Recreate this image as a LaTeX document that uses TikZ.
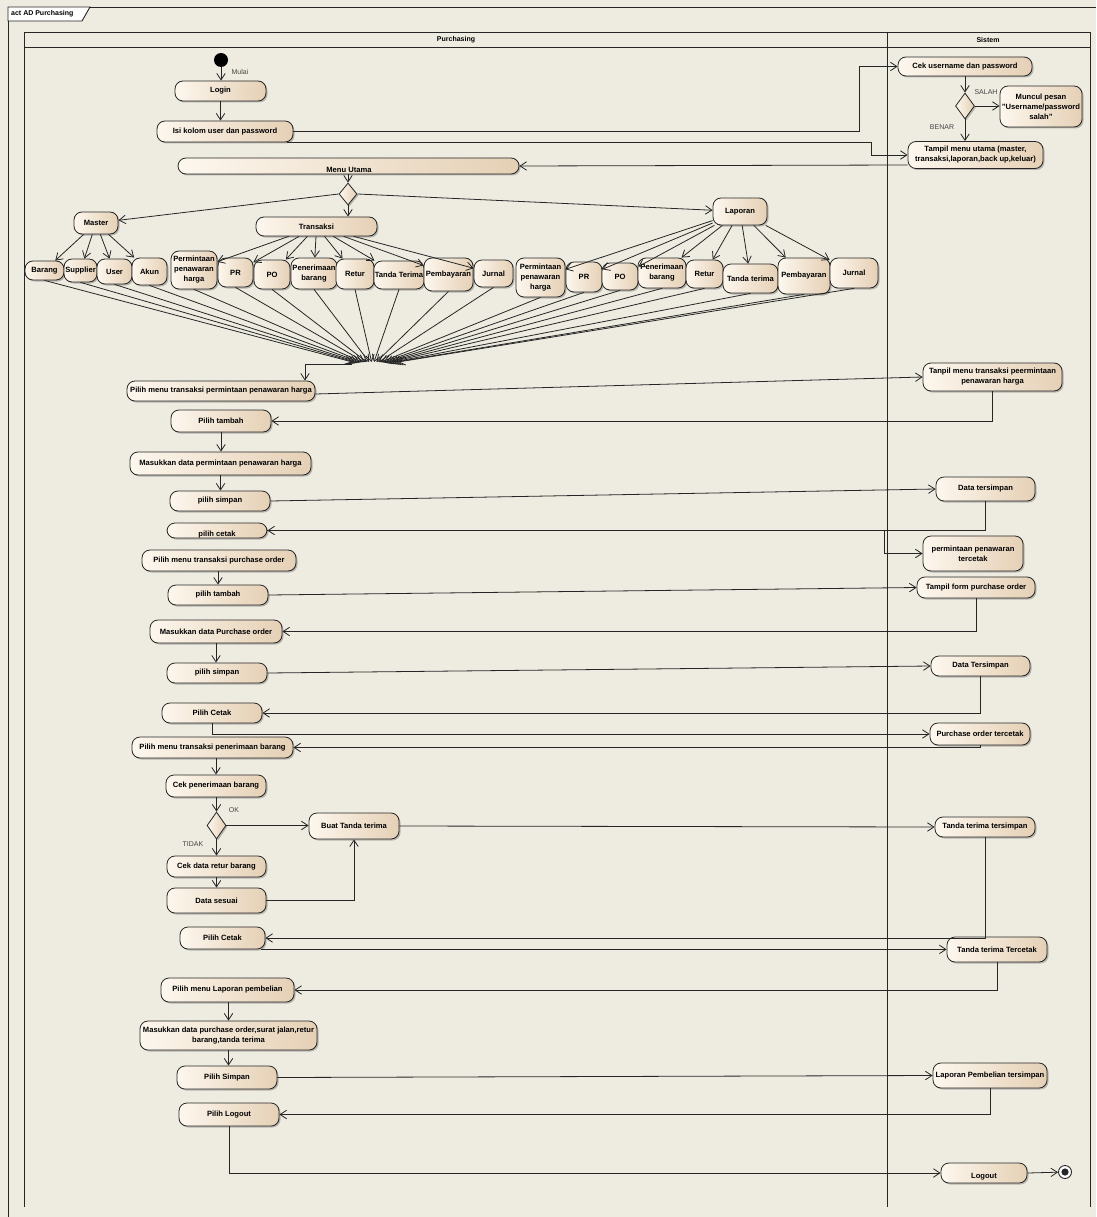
\documentclass[tikz,border=0pt]{standalone}
\usepackage{fontspec}
\setmainfont{Liberation Sans}
\usetikzlibrary{arrows.meta,shapes.geometric,shadows,calc}
\definecolor{bgc}{HTML}{EEECE1}
\definecolor{actL}{HTML}{FDF7EE}
\definecolor{actR}{HTML}{E5D0B5}
\definecolor{linec}{HTML}{262626}
\definecolor{lblc}{HTML}{444444}
\newcommand\actfont{\fontsize{7.6}{10}\selectfont\bfseries}
\newcommand\lblfont{\fontsize{7}{8}\selectfont}
\begin{document}
\begin{tikzpicture}[x=1pt,y=-1pt,
  >={Straight Barb[length=6.5pt,width=8.5pt]},
  act/.style={rounded corners=8pt, draw=linec, line width=0.8pt, left color=actL, right color=actR,
    font=\actfont, inner sep=1pt, align=center,
    drop shadow={shadow xshift=1.5pt, shadow yshift=-1.5pt, opacity=0.35, fill=black!70}},
  sz/.style 2 args={minimum width=#1pt, minimum height=#2pt},
  dec/.style={diamond, draw=linec, line width=0.8pt, left color=actL, right color=actR, inner sep=0pt,
    drop shadow={shadow xshift=1.5pt, shadow yshift=-1.5pt, opacity=0.35, fill=black!70}},
  flow/.style={draw=linec, line width=0.8pt, ->},
  lane/.style={draw=linec, line width=0.9pt},
  lbl/.style={font=\lblfont, text=lblc, inner sep=0pt},
  hdr/.style={font=\fontsize{7}{8}\selectfont\bfseries, inner sep=0pt},
  txt/.style={font=\actfont, inner sep=0pt}]
\useasboundingbox[fill=bgc] (0,0) rectangle (1096,1217);

% frame
\draw[lane] (8,1217) -- (8,7) -- (1096,7);
\draw[lane, fill=white] (8,7) -- (90,7) -- (82,21) -- (8,21) -- cycle;
\node[hdr, anchor=west] (tab) at (11,14) {act AD Purchasing};

% swimlanes
\draw[lane] (24,1207) -- (24,32) -- (1090,32) -- (1090,1207);
\draw[lane] (24,47) -- (1090,47);
\draw[lane] (887,32) -- (887,1207);
\node[hdr] (laneP) at (456,40) {Purchasing};
\node[hdr] (laneS) at (988,40) {Sistem};

% top part
\node[circle, fill=black, minimum size=14pt, inner sep=0pt] (start) at (221,60) {};
\node[lbl] (mulai) at (240,72) {Mulai};
\node[act, sz={91}{20}] (login) at (220.5,91) {Login};
\node[act, sz={136}{21}] (isi) at (225,131.5) {Isi kolom user dan password};
\node[act, sz={341}{16}] (menu) at (348.5,166) {};
\node[txt] (menut) at (349,169.5) {Menu Utama};

\node[act, sz={134}{19}] (cek) at (965,66.5) {Cek username dan password};
\node[dec, minimum width=19pt, minimum height=26pt] (d1) at (965,106) {};
\node[lbl] (salah) at (986,92) {SALAH};
\node[lbl] (benar) at (942,127) {BENAR};
\node[act, sz={82}{41}] (muncul) at (1041,106.5) {Muncul pesan\\"Username/password\\salah"};
\node[act, sz={135}{27}] (tampil) at (975.5,155) {Tampil menu utama (master,\\transaksi,laporan,back up,keluar)};

\node[dec, minimum width=18pt, minimum height=22pt] (d2) at (348,194) {};
\node[act, sz={44}{22}] (master) at (96,223) {Master};
\node[act, sz={121}{19}] (transaksi) at (316.5,226.5) {Transaksi};
\node[act, sz={54}{27}] (laporan) at (740,211.5) {Laporan};

% master children
\node[act, sz={39}{19}] (barang) at (44.5,270.5) {Barang};
\node[act, sz={33}{23}] (supplier) at (80.5,270.5) {Supplier};
\node[act, sz={35}{25}] (user) at (114.5,271.5) {User};
\node[act, sz={35}{27}] (akun) at (149.5,271.5) {Akun};
% transaksi children
\node[act, sz={46}{38}] (perm1) at (194,270) {Permintaan\\penawaran\\harga};
\node[act, sz={35}{29}] (pr1) at (235.5,272.5) {PR};
\node[act, sz={36}{29}] (po1) at (272,274.5) {PO};
\node[act, sz={46}{31}] (pen1) at (314,273.5) {Penerimaan\\barang};
\node[act, sz={38}{30}] (retur1) at (355,274) {Retur};
\node[act, sz={50}{28}] (tanda1) at (399,275) {Tanda Terima};
\node[act, sz={49}{33}] (pemb1) at (448.5,274.5) {Pembayaran};
\node[act, sz={39}{27}] (jurnal1) at (493.5,273.5) {Jurnal};
% laporan children
\node[act, sz={49}{39}] (perm2) at (540.5,277.5) {Permintaan\\penawaran\\harga};
\node[act, sz={36}{30}] (pr2) at (584,277) {PR};
\node[act, sz={36}{27}] (po2) at (620,276.5) {PO};
\node[act, sz={48}{30}] (pen2) at (662,273) {Penerimaan\\barang};
\node[act, sz={37}{28}] (retur2) at (704.5,274) {Retur};
\node[act, sz={55}{29}] (tanda2) at (750.5,278.5) {Tanda terima};
\node[act, sz={52}{36}] (pemb2) at (804,276) {Pembayaran};
\node[act, sz={48}{30}] (jurnal2) at (854,273) {Jurnal};

% middle / lower
\node[act, sz={188}{20}] (pmt) at (221,391) {Pilih menu transaksi permintaan penawaran harga};
\node[act, sz={139}{28}] (tanpil) at (992.5,377) {Tanpil menu transaksi peermintaan\\penawaran harga};
\node[act, sz={100}{22}] (tambah1) at (221,421) {Pilih tambah};
\node[act, sz={181}{23}] (mas1) at (220.5,463.5) {Masukkan data permintaan penawaran harga};
\node[act, sz={100}{20}] (simpan1) at (220,501) {pilih simpan};
\node[act, sz={99}{24}] (tsimpan1) at (985.5,489) {Data tersimpan};
\node[act, sz={100}{15}] (cetak1) at (217,530.5) {};
\node[txt] (cetak1t) at (217,534.5) {pilih cetak};
\node[act, sz={100}{35}] (tercetak1) at (973,553.5) {permintaan penawaran\\tercetak};

\node[act, sz={154}{21}] (pmtpo) at (219,560.5) {Pilih menu transaksi purchase order};
\node[act, sz={100}{20}] (tambah2) at (218,595) {pilih tambah};
\node[act, sz={118}{21}] (tform) at (976,587.5) {Tampil form purchase order};
\node[act, sz={132}{23}] (mas2) at (216,631.5) {Masukkan data Purchase order};
\node[act, sz={100}{20}] (simpan2) at (217,673) {pilih simpan};
\node[act, sz={99}{20}] (tsimpan2) at (980.5,666) {Data Tersimpan};
\node[act, sz={100}{20}] (cetak2) at (212,713) {Pilih Cetak};
\node[act, sz={100}{22}] (potercetak) at (980,734) {Purchase order tercetak};

\node[act, sz={161}{21}] (pmtpb) at (212.5,747.5) {Pilih menu transaksi penerimaan barang};
\node[act, sz={100}{22}] (cekpen) at (216,786) {Cek penerimaan barang};
\node[dec, minimum width=19pt, minimum height=27pt] (d3) at (216.5,825.5) {};
\node[lbl] (ok) at (234,810) {OK};
\node[lbl] (tidak) at (193,844) {TIDAK};
\node[act, sz={90}{26}] (buat) at (354,826) {Buat Tanda terima};
\node[act, sz={99}{21}] (cekretur) at (216.5,866.5) {Cek data retur barang};
\node[act, sz={99}{25}] (sesuai) at (216.5,900.5) {Data sesuai};
\node[act, sz={100}{20}] (ttsimpan) at (985,827) {Tanda terima tersimpan};
\node[act, sz={85}{22}] (cetak3) at (222.5,938) {Pilih Cetak};
\node[act, sz={100}{25}] (tttercetak) at (997,949.5) {Tanda terima Tercetak};

\node[act, sz={133}{24}] (pmlap) at (227.5,990) {Pilih menu Laporan pembelian};
\node[act, sz={177}{29}] (maslap) at (228.5,1035.5) {Masukkan data purchase order,surat jalan,retur\\barang,tanda terima};
\node[act, sz={100}{23}] (simpanlap) at (227,1077.5) {Pilih Simpan};
\node[act, sz={114}{25}] (lapsimpan) at (990,1075.5) {Laporan Pembelian tersimpan};
\node[act, sz={100}{23}] (logoutP) at (229,1114.5) {Pilih Logout};
\node[act, sz={86}{20}] (logout) at (984,1173) {};
\node[txt] (logoutt) at (984,1176.5) {Logout};
\node[circle, draw=linec, fill=white, line width=0.9pt, minimum size=13pt, inner sep=0pt] (final) at (1065,1172) {};
\fill[linec] (final.center) circle (3.6pt);

% connectors top
\draw[flow] (start) -- (start |- login.north);
\draw[flow] (login.south) -- (login.south |- isi.north);
\draw[flow] (isi.east) -| ([xshift=-38pt]cek.west) -- (cek.west);
\draw[flow] ([xshift=-6pt]isi.south east) -| ([xshift=-36pt]tampil.west) -- (tampil.west);
\draw[flow] (cek.south) -- (d1.north);
\draw[flow] (d1.east) -- (muncul.west |- d1.east);
\draw[flow] (d1.south) -- (d1.south |- tampil.north);
\draw[flow] ([yshift=-10pt]tampil.west) -- (menu.east);
\draw[flow] (menu.south -| d2) -- (d2.north);
\draw[flow] (d2.west) -- (master);
\draw[flow] (d2.south) -- (d2.south |- transaksi.north);
\draw[flow] (d2.east) -- (laporan);
\foreach \c in {barang,supplier,user,akun} \draw[flow] (master) -- (\c);
\foreach \c in {perm1,pr1,po1,pen1,retur1,tanda1,pemb1,jurnal1} \draw[flow] (transaksi) -- (\c);
\foreach \c in {perm2,pr2,po2,pen2,retur2,tanda2,pemb2,jurnal2} \draw[flow] (laporan) -- (\c);

% fan
\coordinate (fan) at (350,362);
\foreach \c [count=\i] in {barang,supplier,user,akun,perm1,pr1,po1,pen1,retur1,tanda1,pemb1,jurnal1,perm2,pr2,po2,pen2,retur2,tanda2,pemb2,jurnal2}
  \draw[flow] (\c.south) -- ($(fan)+(\i*2.4,0)$);
\coordinate (fanL) at (352,364);
\coordinate (jx) at (305,364);
\draw[flow] (fanL) -- (jx) -- (jx |- pmt.north);

% lower connectors
\draw[flow] ([yshift=-3pt]pmt.east) -- (tanpil.west);
\draw[flow] (tanpil.south) |- (tambah1.east);
\draw[flow] (tambah1.south) -- (tambah1.south |- mas1.north);
\draw[flow] (mas1.south) -- (mas1.south |- simpan1.north);
\draw[flow] (simpan1.east) -- (tsimpan1.west);
\draw[flow] (tsimpan1.south) |- (cetak1.east);
\draw[flow] (cetak1.east) -| ([xshift=-38pt]tercetak1.west) -- (tercetak1.west);
\draw[flow] (pmtpo.south -| tambah2) -- (tambah2.north);
\draw[flow] (tambah2.east) -- (tform.west);
\draw[flow] (tform.south) |- (mas2.east);
\draw[flow] (mas2.south) -- (mas2.south |- simpan2.north);
\draw[flow] (simpan2.east) -- (tsimpan2.west);
\draw[flow] (tsimpan2.south) |- (cetak2.east);
\draw[flow] (cetak2.south) |- (potercetak.west);
\draw[flow] (potercetak.south) |- (pmtpb.east);
\draw[flow] (pmtpb.south -| cekpen) -- (cekpen.north);
\draw[flow] (cekpen.south -| d3) -- (d3.north);
\draw[flow] (d3.east) -- (buat.west |- d3.east);
\draw[flow] (d3.south) -- (d3.south |- cekretur.north);
\draw[flow] (cekretur.south -| d3) -- (d3 |- sesuai.north);
\draw[flow] (sesuai.east) -| (buat.south);
\draw[flow] (buat.east) -- (ttsimpan.west);
\draw[flow] (ttsimpan.south) |- (cetak3.east);
\draw[flow] ([xshift=-4pt]cetak3.south east) -- (tttercetak.west |- cetak3.south east);
\draw[flow] (tttercetak.south) |- (pmlap.east);
\draw[flow] (pmlap.south -| maslap) -- (maslap.north);
\draw[flow] (maslap.south) -- (maslap.south |- simpanlap.north);
\draw[flow] (simpanlap.east) -- (lapsimpan.west);
\draw[flow] (lapsimpan.south) |- (logoutP.east);
\draw[flow] (logoutP.south) |- (logout.west);
\draw[flow] (logout.east) -- (final);
\end{tikzpicture}
\end{document}
